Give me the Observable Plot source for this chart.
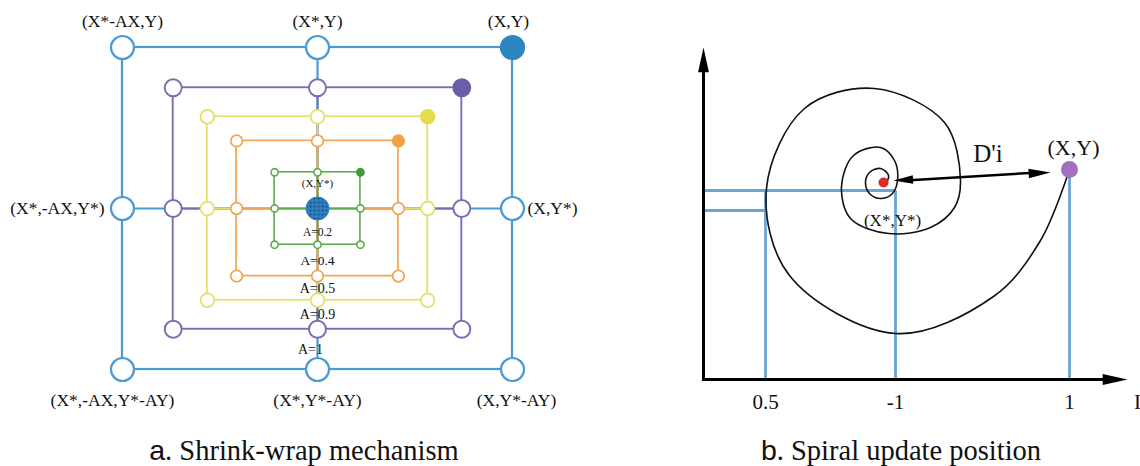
<!DOCTYPE html>
<html>
<head>
<meta charset="utf-8">
<script src="https://cdn.jsdelivr.net/npm/d3@7"></script>
<script src="https://cdn.jsdelivr.net/npm/@observablehq/plot@0.6"></script>
<style>
  body { margin: 0; background: #fff; }
  #fig { position: relative; width: 1140px; height: 466px; overflow: hidden; font-family: "Liberation Serif", serif; color: #111; }
  .panel { position: absolute; top: 0; width: 570px; height: 415px; }
  .panel svg { overflow: visible; }
  .cap { position: absolute; top: 435px; font-size: 28.5px; line-height: 30px; white-space: nowrap; transform: translateX(-50%); }
  .cap .l { font-family: "Liberation Sans", sans-serif; }
</style>
</head>
<body>
<svg width="0" height="0" style="position:absolute">
  <defs>
    <pattern id="speckle" patternUnits="userSpaceOnUse" width="4" height="4">
      <rect width="4" height="4" fill="#2f80c0"></rect>
      <circle cx="2" cy="2" r="0.9" fill="#173d66"></circle>
    </pattern>
  </defs>
</svg>
<div id="fig">
  <div id="left" class="panel" style="left:0"></div>
  <div id="right" class="panel" style="left:570px"></div>
  <div class="cap" style="left:304px"><span class="l">a</span>. Shrink-wrap mechanism</div>
  <div class="cap" style="left:901px"><span class="l">b</span>. Spiral update position</div>
</div>
<script>
// ---------------- data: panel a (shrink-wrap) ----------------
const levelLabels = ["A=1", "A=0.9", "A=0.5", "A=0.4", "A=0.2"];
const halfWidth  = [1, 0.74, 0.565, 0.415, 0.22];
const halfHeight = [1, 0.75, 0.57, 0.42, 0.225];
const cornerLabels = [
  {gx: -1, gy: 1,  text: "(X*-AX,Y)"},
  {gx: 0,  gy: 1,  text: "(X*,Y)"},
  {gx: 1,  gy: 1,  text: "(X,Y)"},
  {gx: -1, gy: 0,  text: "(X*,-AX,Y*)"},
  {gx: 1,  gy: 0,  text: "(X,Y*)"},
  {gx: -1, gy: -1, text: "(X*,-AX,Y*-AY)"},
  {gx: 0,  gy: -1, text: "(X*,Y*-AY)"},
  {gx: 1,  gy: -1, text: "(X,Y*-AY)"}
];
const centerLabel = "(X,Y*)";

// ---------------- data: panel b (spiral) ----------------
const spiralX = [182,185,177,166,162,167,178,189,194,191,177,150,138,147,185,227,251,257,241,171,101,63,86,192,290,337,366];
const spiralY = [195,204,211,207,196,185,181,186,199,219,232,224,193,161,146,152,172,199,257,291,271,191,104,46,83,139,210];
const tickLabels = ["0.5", "-1", "1", "I"];
const tickX = [62, 192, 366, 434];
const guideSegments = [
  {x1: 0, y1: 189, x2: 192, y2: 189},
  {x1: 0, y1: 169, x2: 62, y2: 169},
  {x1: 62, y1: 0, x2: 62, y2: 189},
  {x1: 192, y1: 0, x2: 192, y2: 189},
  {x1: 366, y1: 0, x2: 366, y2: 210}
];
const bestPoint = {x: 180, y: 197, label: "(X*,Y*)"};
const currentPoint = {x: 366, y: 210, label: "(X,Y)"};
const distance = {x1: 190, y1: 199, x2: 347, y2: 207, label: "D'i"};
const axisEnds = {xMax: 424, yMax: 332};

// ---------------- styles ----------------
const lineColors = ["#4a9bd3", "#7a6db2", "#e4e16c", "#f2a452", "#5cab4c"];
const fillColors = ["#2e86c1", "#6b5ea8", "#e5dc4a", "#f3a24c", "#3f9a3a"];
const dotR = [11.5, 8.5, 6.8, 5.8, 3.6];
const lineW = [2.2, 1.9, 1.8, 1.7, 1.6];
const serif = "Liberation Serif, Times New Roman, serif";

// ---------------- panel a ----------------
const aMarks = [];
levelLabels.forEach((lab, i) => {
  const hw = halfWidth[i], hh = halfHeight[i];
  aMarks.push(Plot.rect([i], {x1: () => -hw, x2: () => hw, y1: () => -hh, y2: () => hh,
    fill: "none", stroke: lineColors[i], strokeWidth: lineW[i]}));
  aMarks.push(Plot.ruleY([0], {x1: () => -hw, x2: () => hw, stroke: lineColors[i], strokeWidth: lineW[i]}));
  aMarks.push(Plot.ruleX([0], {y1: () => -hh, y2: () => hh, stroke: lineColors[i], strokeWidth: lineW[i]}));
});
levelLabels.forEach((lab, i) => {
  const pts = [];
  for (const gy of [1, 0, -1]) for (const gx of [-1, 0, 1]) {
    if (gx === 0 && gy === 0) continue;
    pts.push({x: gx * halfWidth[i], y: gy * halfHeight[i], filled: gx === 1 && gy === 1});
  }
  aMarks.push(Plot.dot(pts, {x: "x", y: "y", r: dotR[i],
    fill: d => d.filled ? fillColors[i] : "white",
    stroke: d => d.filled ? fillColors[i] : lineColors[i], strokeWidth: lineW[i]}));
});
aMarks.push(Plot.dot([0], {x: () => 0, y: () => 0, r: 11.5, fill: "url(#speckle)", stroke: "#2f80c0", strokeWidth: 1}));
aMarks.push(Plot.text([centerLabel], {x: () => 0, y: () => 0, text: d => d, dy: -25, fontSize: 11, fontFamily: serif, fill: "#111"}));
const aLabelStyle = [
  {dx: -7, dy: 0, fs: 14}, {dx: 0, dy: 0, fs: 14}, {dx: 0, dy: 0, fs: 14}, {dx: 0, dy: 0, fs: 13.5}, {dx: 0, dy: 6, fs: 11.5}
];
levelLabels.forEach((lab, i) => {
  const yv = -(halfHeight[i] + (halfHeight[i + 1] || 0)) / 2;
  const st = aLabelStyle[i];
  aMarks.push(Plot.text([lab], {x: () => 0, y: () => yv, text: d => d, dx: st.dx, dy: st.dy,
    fontSize: st.fs, fontFamily: serif, fill: "#111"}));
});
const cornerStyle = {
  "-1,1": {dx: 0, dy: -26, anchor: "middle"}, "0,1": {dx: 0, dy: -26, anchor: "middle"}, "1,1": {dx: -4, dy: -26, anchor: "middle"},
  "-1,0": {dx: -18, dy: 0, anchor: "end"}, "1,0": {dx: 15, dy: 0, anchor: "start"},
  "-1,-1": {dx: -10, dy: 31, anchor: "middle"}, "0,-1": {dx: 0, dy: 31, anchor: "middle"}, "1,-1": {dx: 4, dy: 31, anchor: "middle"}
};
cornerLabels.forEach(c => {
  const st = cornerStyle[c.gx + "," + c.gy];
  aMarks.push(Plot.text([c], {x: d => d.gx * halfWidth[0], y: d => d.gy * halfHeight[0], text: "text",
    dx: st.dx, dy: st.dy, textAnchor: st.anchor, fontSize: 17.5, fontFamily: serif, fill: "#111"}));
});
const leftPlot = Plot.plot({
  width: 570, height: 415, marginLeft: 122, marginRight: 58, marginTop: 47, marginBottom: 46,
  x: {domain: [-1, 1], axis: null}, y: {domain: [-1, 1], axis: null},
  style: {background: "transparent", overflow: "visible"},
  marks: aMarks
});
document.getElementById("left").appendChild(leftPlot);

// ---------------- panel b ----------------
const arrowHead = {
  draw(ctx, size) {
    const r = Math.sqrt(size / Math.PI);
    const L = 2.3 * r, W = 0.5 * r;
    ctx.moveTo(0, 0);
    ctx.lineTo(W, L);
    ctx.lineTo(-W, L);
    ctx.closePath();
  }
};
const spiral = spiralX.map((x, i) => ({x, y: spiralY[i]}));
const dAngle = Math.atan2(-(distance.y2 - distance.y1), distance.x2 - distance.x1) * 180 / Math.PI;
const heads = [
  {x: 0, y: axisEnds.yMax, rot: 0, r: 10.8},
  {x: axisEnds.xMax, y: 0, rot: 90, r: 10.8},
  {x: distance.x2, y: distance.y2, rot: 90 + dAngle, r: 9.5},
  {x: distance.x1, y: distance.y1, rot: -90 + dAngle, r: 8.5}
];
const axisLines = [
  {x1: 0, y1: -1.5, x2: 0, y2: axisEnds.yMax - 20},
  {x1: -1.5, y1: 0, x2: axisEnds.xMax - 20, y2: 0}
];
const rightPlot = Plot.plot({
  width: 570, height: 415, marginLeft: 133, marginRight: 0, marginTop: 0, marginBottom: 36,
  x: {domain: [0, 437], axis: null}, y: {domain: [0, 379], axis: null},
  style: {background: "transparent", overflow: "visible"},
  marks: [
    Plot.link(guideSegments, {x1: "x1", y1: "y1", x2: "x2", y2: "y2", stroke: "#6aa6d3", strokeWidth: 2.8}),
    Plot.line(spiral, {x: "x", y: "y", curve: "catmull-rom", stroke: "#111", strokeWidth: 1.6}),
    Plot.link(axisLines, {x1: "x1", y1: "y1", x2: "x2", y2: "y2", stroke: "#000", strokeWidth: 3}),
    Plot.link([distance], {x1: d => d.x1 + 12, y1: "y1", x2: d => d.x2 - 12, y2: "y2", stroke: "#000", strokeWidth: 2.5}),
    ...heads.map(h => Plot.dot([h], {x: "x", y: "y", r: h.r, symbol: arrowHead, rotate: h.rot, fill: "#000", stroke: "none"})),
    Plot.dot([bestPoint], {x: "x", y: "y", r: 5, fill: "#e12626"}),
    Plot.dot([currentPoint], {x: "x", y: "y", r: 8.5, fill: "#a46fbf"}),
    Plot.text([currentPoint], {x: "x", y: "y", text: "label", dx: 4, dy: -22, fontSize: 22, fontFamily: serif, fill: "#111"}),
    Plot.text([bestPoint], {x: "x", y: "y", text: "label", dx: 9, dy: 38, fontSize: 17, fontFamily: serif, fill: "#111"}),
    Plot.text([distance], {x: d => (d.x1 + d.x2) / 2, y: d => (d.y1 + d.y2) / 2, text: "label", dx: 16, dy: -23, fontSize: 25, fontFamily: serif, fill: "#111"}),
    Plot.text(tickLabels, {x: (d, i) => tickX[i], y: () => 0, text: d => d, dy: 23, fontSize: 21, fontFamily: serif, fill: "#111"})
  ]
});
document.getElementById("right").appendChild(rightPlot);
</script>
</body>
</html>
